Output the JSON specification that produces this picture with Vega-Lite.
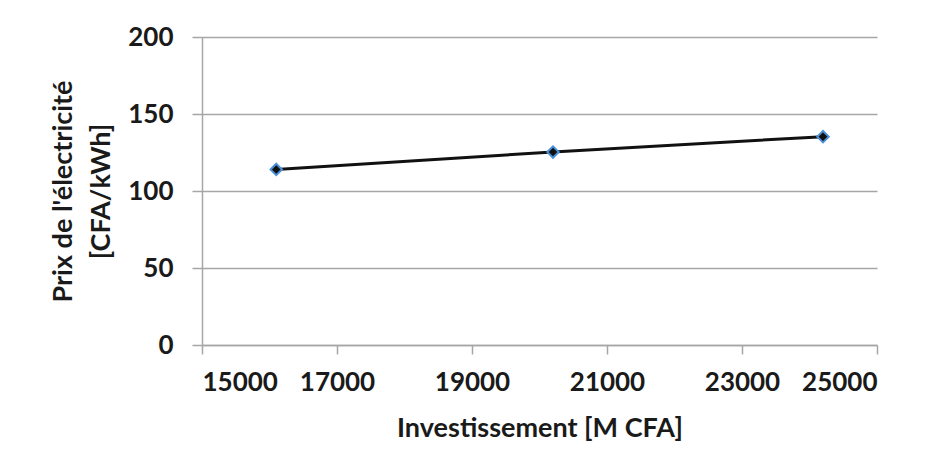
{
  "$schema": "https://vega.github.io/schema/vega-lite/v6.json",
  "width": 675,
  "height": 308,
  "autosize": {"type": "none"},
  "padding": {"left": 202, "top": 37, "right": 69, "bottom": 129},
  "background": "white",
  "config": {
    "view": {"stroke": null},
    "font": "Lato",
    "axis": {
      "labelFont": "Lato",
      "titleFont": "Lato",
      "labelFontSize": 26,
      "titleFontSize": 27,
      "labelColor": "#1a1a1a",
      "titleColor": "#1a1a1a",
      "labelFontWeight": "bold",
      "titleFontWeight": "bold",
      "domainColor": "#a6a6a6",
      "tickColor": "#a6a6a6",
      "gridColor": "#a6a6a6",
      "domainWidth": 1.5,
      "tickWidth": 1.5,
      "gridWidth": 1.5
    }
  },
  "data": {
    "values": [
      {"investissement": 16100, "prix": 114},
      {"investissement": 20200, "prix": 125.3},
      {"investissement": 24200, "prix": 135.3}
    ]
  },
  "encoding": {
    "x": {
      "field": "investissement",
      "type": "quantitative",
      "scale": {"domain": [15000, 25000], "nice": false, "zero": false},
      "axis": {
        "values": [15000, 17000, 19000, 21000, 23000, 25000],
        "format": "d",
        "grid": false,
        "tickSize": 9,
        "labelPadding": 15,
        "title": "Investissement [M CFA]",
        "titlePadding": 20
      }
    },
    "y": {
      "field": "prix",
      "type": "quantitative",
      "scale": {"domain": [0, 200], "nice": false},
      "axis": {
        "values": [0, 50, 100, 150, 200],
        "tickSize": 10,
        "labelPadding": 19,
        "title": ["Prix de l'électricité", "[CFA/kWh]"],
        "titlePadding": 12,
        "titleLineHeight": 38
      }
    }
  },
  "layer": [
    {"mark": {"type": "line", "color": "#111111", "strokeWidth": 3}},
    {"mark": {"type": "point", "shape": "diamond", "filled": true, "fill": "#111111", "stroke": "#4a90d9", "strokeWidth": 2, "size": 130, "opacity": 1}}
  ]
}
